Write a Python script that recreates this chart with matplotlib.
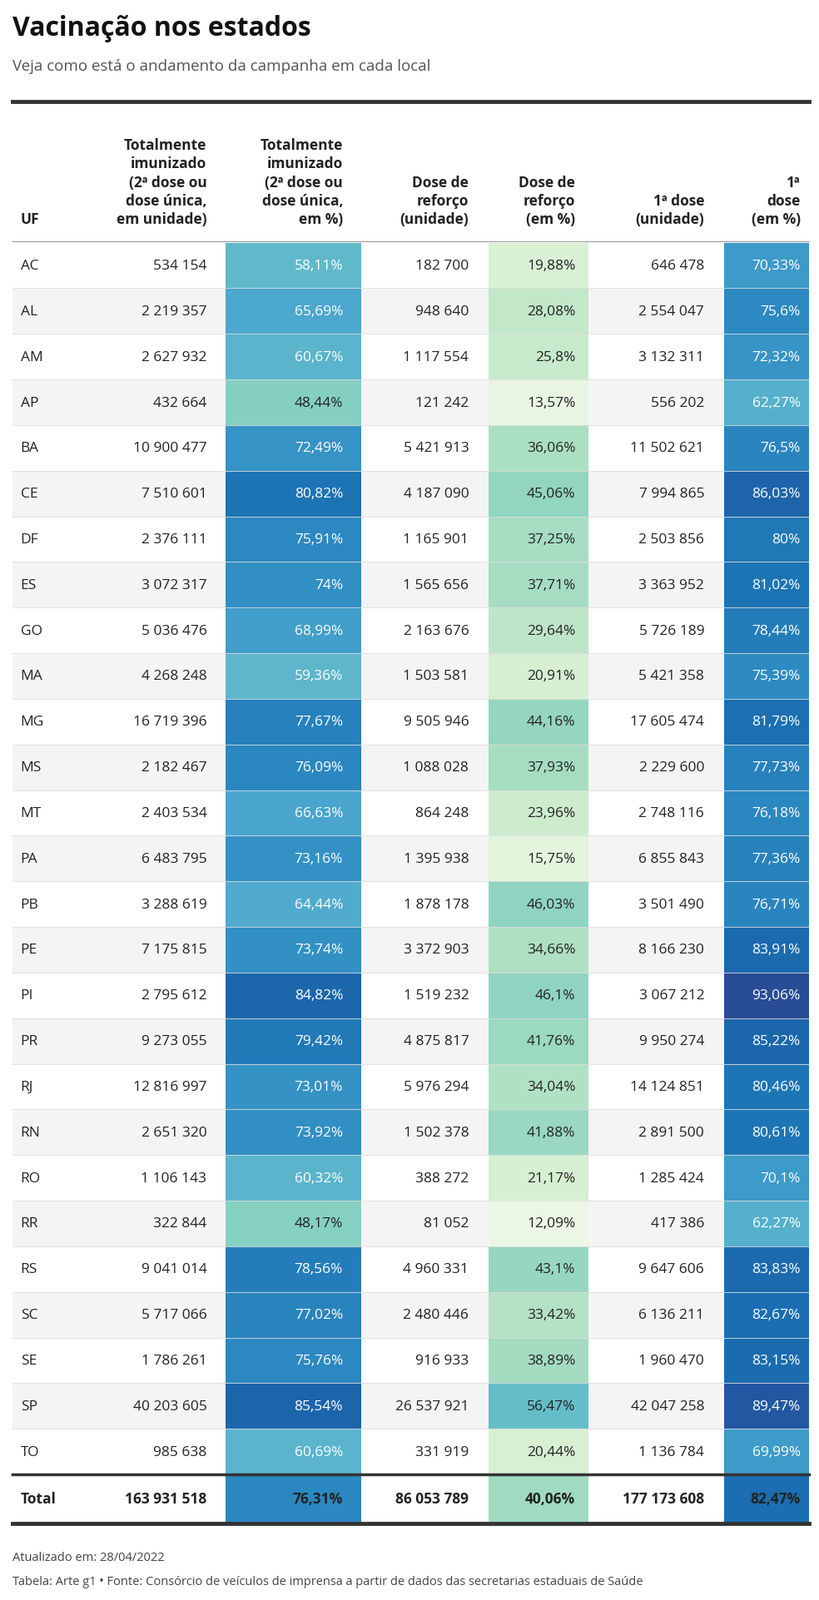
import matplotlib
matplotlib.use("Agg")
import matplotlib.pyplot as plt
from matplotlib.patches import Rectangle
from matplotlib.colors import LinearSegmentedColormap

# data
ufs = ["AC", "AL", "AM", "AP", "BA", "CE", "DF", "ES", "GO", "MA", "MG", "MS", "MT", "PA",
       "PB", "PE", "PI", "PR", "RJ", "RN", "RO", "RR", "RS", "SC", "SE", "SP", "TO"]
full_units = ["534 154", "2 219 357", "2 627 932", "432 664", "10 900 477", "7 510 601", "2 376 111",
              "3 072 317", "5 036 476", "4 268 248", "16 719 396", "2 182 467", "2 403 534", "6 483 795",
              "3 288 619", "7 175 815", "2 795 612", "9 273 055", "12 816 997", "2 651 320", "1 106 143",
              "322 844", "9 041 014", "5 717 066", "1 786 261", "40 203 605", "985 638"]
full_pct = [58.11, 65.69, 60.67, 48.44, 72.49, 80.82, 75.91, 74, 68.99, 59.36, 77.67, 76.09, 66.63, 73.16,
            64.44, 73.74, 84.82, 79.42, 73.01, 73.92, 60.32, 48.17, 78.56, 77.02, 75.76, 85.54, 60.69]
boost_units = ["182 700", "948 640", "1 117 554", "121 242", "5 421 913", "4 187 090", "1 165 901",
               "1 565 656", "2 163 676", "1 503 581", "9 505 946", "1 088 028", "864 248", "1 395 938",
               "1 878 178", "3 372 903", "1 519 232", "4 875 817", "5 976 294", "1 502 378", "388 272",
               "81 052", "4 960 331", "2 480 446", "916 933", "26 537 921", "331 919"]
boost_pct = [19.88, 28.08, 25.8, 13.57, 36.06, 45.06, 37.25, 37.71, 29.64, 20.91, 44.16, 37.93, 23.96, 15.75,
             46.03, 34.66, 46.1, 41.76, 34.04, 41.88, 21.17, 12.09, 43.1, 33.42, 38.89, 56.47, 20.44]
first_units = ["646 478", "2 554 047", "3 132 311", "556 202", "11 502 621", "7 994 865", "2 503 856",
               "3 363 952", "5 726 189", "5 421 358", "17 605 474", "2 229 600", "2 748 116", "6 855 843",
               "3 501 490", "8 166 230", "3 067 212", "9 950 274", "14 124 851", "2 891 500", "1 285 424",
               "417 386", "9 647 606", "6 136 211", "1 960 470", "42 047 258", "1 136 784"]
first_pct = [70.33, 75.6, 72.32, 62.27, 76.5, 86.03, 80, 81.02, 78.44, 75.39, 81.79, 77.73, 76.18, 77.36,
             76.71, 83.91, 93.06, 85.22, 80.46, 80.61, 70.1, 62.27, 83.83, 82.67, 83.15, 89.47, 69.99]
total_row = ["163 931 518", 76.31, "86 053 789", 40.06, "177 173 608", 82.47]

headers = ["Totalmente\nimunizado\n(2ª dose ou\ndose única,\nem unidade)",
           "Totalmente\nimunizado\n(2ª dose ou\ndose única,\nem %)",
           "Dose de\nreforço\n(unidade)", "Dose de\nreforço\n(em %)",
           "1ª dose\n(unidade)", "1ª\ndose\n(em %)"]

def fmt(v):
    s = ("%.2f" % v).rstrip("0").rstrip(".")
    return s.replace(".", ",") + "%"

# colour scale over 10..95 %
stops = [(10, "#f0f9e8"), (20, "#d8f0d2"), (35, "#aee0c2"), (46, "#8fd4c0"), (55, "#68c0c8"),
         (65, "#4eaacf"), (75, "#2f8cc3"), (82, "#1a70b2"), (88, "#1e5ea6"), (95, "#2b4690")]
cmap = LinearSegmentedColormap.from_list("g1", [((p - 10) / 85, c) for p, c in stops])
def color_for(v):
    return cmap(min(max((v - 10) / 85, 0), 1))

plt.rcParams["font.family"] = "Open Sans"
fig = plt.figure(figsize=(9.84, 19.24), dpi=100)
ax = fig.add_axes([0, 0, 1, 1])
ax.set_xlim(0, 800)
ax.set_ylim(1565, 0)
ax.axis("off")

fs = 12.5
dark = "#222222"
ax.text(12, 28, "Vacinação nos estados", fontsize=23, fontweight="bold", va="center", color="#111")
ax.text(12, 65, "Veja como está o andamento da campanha em cada local", fontsize=13.5, va="center", color="#555")
ax.plot([12, 790], [100, 100], color="#333", lw=3.5)

text_right = [202, 335, 458, 562, 688, 782]
cell_span = {1: (220, 353), 3: (477, 575), 5: (707, 790)}
ax.text(20, 222, "UF", fontsize=fs, fontweight="bold", va="bottom", color=dark)
for x, h in zip(text_right, headers):
    ax.text(x, 222, h, fontsize=fs, fontweight="bold", ha="right", va="bottom", color=dark, linespacing=1.3)
ax.plot([12, 790], [237, 237], color="#999", lw=0.8)

y0, rh = 238, 44.6
for i, uf in enumerate(ufs):
    top = y0 + i * rh
    yc = top + rh / 2
    if i % 2 == 1:
        ax.add_patch(Rectangle((12, top), 778, rh, color="#f4f4f4", lw=0))
    vals = [full_units[i], full_pct[i], boost_units[i], boost_pct[i], first_units[i], first_pct[i]]
    ax.text(20, yc, uf, fontsize=fs, va="center", color=dark)
    for j, v in enumerate(vals):
        col = dark
        if j in cell_span:
            a, b = cell_span[j]
            ax.add_patch(Rectangle((a, top), b - a, rh, color=color_for(v), lw=0))
            col = "white" if v > 57 else dark
            v = fmt(v)
        ax.text(text_right[j], yc, v, fontsize=fs, ha="right", va="center", color=col)
    ax.plot([12, 790], [top + rh, top + rh], color="#dddddd", lw=0.6)

ax.plot([12, 790], [1442, 1442], color="#333", lw=2.5)
ttop, th = 1443, 46
ax.text(20, ttop + th / 2, "Total", fontsize=fs, fontweight="bold", va="center", color=dark)
for j, v in enumerate(total_row):
    if j in cell_span:
        a, b = cell_span[j]
        ax.add_patch(Rectangle((a, ttop), b - a, th, color=color_for(v), lw=0))
        v = fmt(v)
    ax.text(text_right[j], ttop + th / 2, v, fontsize=fs, fontweight="bold", ha="right", va="center", color=dark)
ax.plot([12, 790], [1490, 1490], color="#333", lw=3.5)

ax.text(12, 1523, "Atualizado em: 28/04/2022", fontsize=10.5, va="center", color="#444")
ax.text(12, 1547, "Tabela: Arte g1 • Fonte: Consórcio de veículos de imprensa a partir de dados das secretarias estaduais de Saúde",
        fontsize=10.5, va="center", color="#444")

fig.savefig("out.png", dpi=100)
